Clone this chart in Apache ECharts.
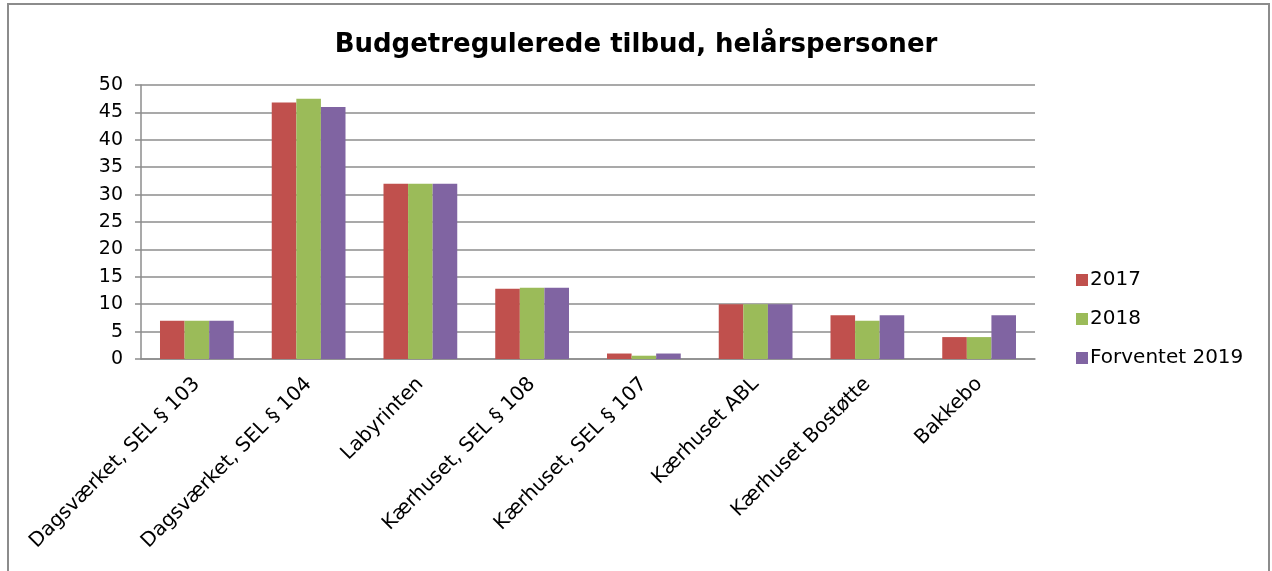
<!DOCTYPE html>
<html lang="da">
<head>
    <meta charset="UTF-8">
    <title>Budgetregulerede tilbud</title>
</head>
<body style="margin:0;background:#fff">

<div id="main" style="width:1272px;height:571px"></div>

<script type="text/javascript" src="https://cdn.jsdelivr.net/npm/echarts@6/dist/echarts.min.js"></script>
<script type="text/javascript">
    var categories = ['Dagsværket, SEL § 103', 'Dagsværket, SEL § 104', 'Labyrinten', 'Kærhuset, SEL § 108',
        'Kærhuset, SEL § 107', 'Kærhuset ABL', 'Kærhuset Bostøtte', 'Bakkebo'];
    var seriesNames = ['2017', '2018', 'Forventet 2019'];
    var values2017 = [7, 46.8, 32, 12.8, 1, 10, 8, 4];
    var values2018 = [7, 47.5, 32, 13, 0.6, 10, 7, 4];
    var values2019 = [7, 46, 32, 13, 1, 10, 8, 8];
    var colors = ['#C0504D', '#9BBB59', '#8064A2'];

    var font = 'DejaVu Sans';
    var gridColor = '#8c8c8c';

    var myChart = echarts.init(document.getElementById('main'));

    function bar(name, data) {
        return {
            name: name,
            type: 'bar',
            data: data,
            barGap: '0%',
            barCategoryGap: '34%'
        };
    }

    var option = {
        color: colors,
        animation: false,
        textStyle: {fontFamily: font},
        graphic: [{
            type: 'rect',
            shape: {x: 8, y: 4, width: 1261, height: 600},
            style: {fill: 'none', stroke: gridColor, lineWidth: 2},
            silent: true
        }],
        title: {
            text: 'Budgetregulerede tilbud, helårspersoner',
            left: 'center',
            top: 27,
            textStyle: {fontFamily: font, fontSize: 26, fontWeight: 'bold', color: '#000'}
        },
        legend: {
            orient: 'vertical',
            left: 1071,
            top: 265,
            itemWidth: 12,
            itemHeight: 12,
            itemGap: 19,
            icon: 'rect',
            data: seriesNames,
            textStyle: {fontFamily: font, fontSize: 20, color: '#000', padding: [0, 0, 0, -3]}
        },
        grid: {left: 141, right: 237, top: 85, bottom: 212},
        xAxis: {
            type: 'category',
            data: categories,
            axisLine: {lineStyle: {color: gridColor, width: 1.5}},
            axisTick: {length: 6, lineStyle: {color: gridColor, width: 1.5}},
            axisLabel: {rotate: 45, fontSize: 20, color: '#000', margin: 22, fontFamily: font}
        },
        yAxis: {
            type: 'value',
            min: 0,
            max: 50,
            interval: 5,
            axisLine: {show: true, lineStyle: {color: gridColor, width: 1.5}},
            axisTick: {show: true, length: 6, lineStyle: {color: gridColor, width: 1.5}},
            splitLine: {lineStyle: {color: gridColor, width: 1.5}},
            axisLabel: {fontSize: 19, color: '#000', margin: 18, fontFamily: font}
        },
        series: [
            bar(seriesNames[0], values2017),
            bar(seriesNames[1], values2018),
            bar(seriesNames[2], values2019)
        ]
    };

    myChart.setOption(option);
</script>
</body>
</html>
